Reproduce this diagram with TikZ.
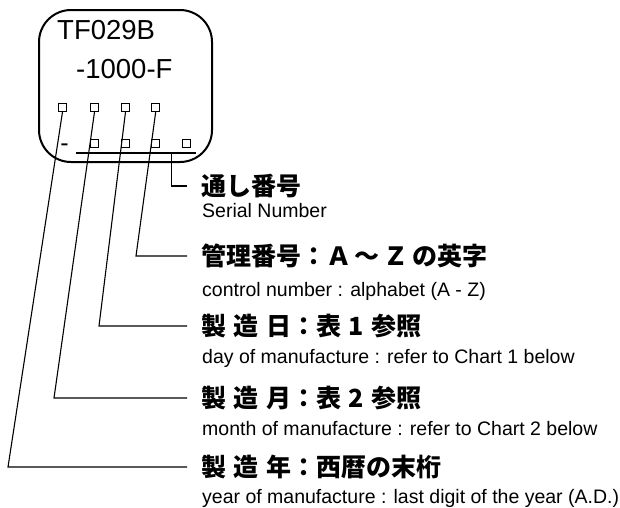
\documentclass[tikz,border=0pt]{standalone}
\usepackage{fontspec}
\setmainfont{Liberation Sans}
\newfontfamily\jpfont{Noto Sans CJK JP}
\usepackage{tikz}
\usetikzlibrary{positioning,calc}
\newcommand{\jgap}{\hspace{0.3em}}
\newcommand{\agap}{\hspace{0.15em}}

\begin{document}
\begin{tikzpicture}[x=1pt, y=-1pt, every node/.style={inner sep=0pt},
    jp/.style={font=\jpfont\bfseries\fontsize{25}{29}\selectfont, anchor=west},
    en/.style={font=\fontsize{19.5}{22}\selectfont, anchor=base west},
    cell/.style={draw, line width=0.9pt, minimum size=8pt},
    lead/.style={line width=1.1pt}]
\useasboundingbox (0,0) rectangle (620,507);
\def\gap{14}  % gap between leader end and label

% Name plate
\node[draw, line width=2pt, rounded corners=32pt, minimum width=173pt, minimum height=152pt] (tag) at (125.5,86) {};
\node[anchor=west, font=\fontsize{27.5}{32}\selectfont] (code1) at (57,30) {TF029B};
\node[anchor=west, font=\fontsize{27.5}{32}\selectfont] (code2) at (76,69) {-1000-F};

% Code cells
\foreach \i/\x in {1/62.5, 2/94.5, 3/125.5, 4/155.7} {
    \node[cell] (top\i) at (\x,107.5) {};
}
\foreach \i/\x in {1/94.7, 2/125, 3/155.5, 4/186.7} {
    \node[cell] (bot\i) at (\x,143) {};
}
\node[anchor=base, font=\fontsize{25}{30}\selectfont] (dash) at (64.5,151) {-};
\coordinate (ulL) at (76,153);
\coordinate (ulR) at (196,153);
\draw[line width=1.8pt] (ulL) -- (ulR);

% Labels
\node[jp] (serJ) at (201,186) {通し番号};
\node[en] (serE) at (202,217) {Serial Number};
\node[jp] (ctlJ) at (201,256) {管理番号：Ａ\agap～\agap Ｚ\agap の英字};
\node[en] (ctlE) at (202,296) {control number : alphabet (A - Z)};
\node[jp] (dayJ) at (201,326) {製\jgap 造\jgap 日：表\jgap 1\jgap 参照};
\node[en] (dayE) at (202,363) {day of manufacture : refer to Chart 1 below};
\node[jp] (monJ) at (201,398) {製\jgap 造\jgap 月：表\jgap 2\jgap 参照};
\node[en] (monE) at (202,435) {month of manufacture : refer to Chart 2 below};
\node[jp] (yrJ) at (201,467) {製\jgap 造\jgap 年：西暦の末桁};
\node[en] (yrE) at (202,503) {year of manufacture : last digit of the year (A.D.)};

% Leaders
\coordinate (serT) at (171.5,153);
\draw[lead] (serT) |- ([xshift=-\gap pt]serJ.west);
\foreach \s/\l/\cx in {top4/ctlJ/136, top3/dayJ/99, top2/monJ/54, top1/yrJ/8} {
    \coordinate (k\l) at (\cx,0);
    \draw[lead] (\s.south) -- (k\l |- \l.west) -- ([xshift=-\gap pt]\l.west);
}
\end{tikzpicture}
\end{document}
